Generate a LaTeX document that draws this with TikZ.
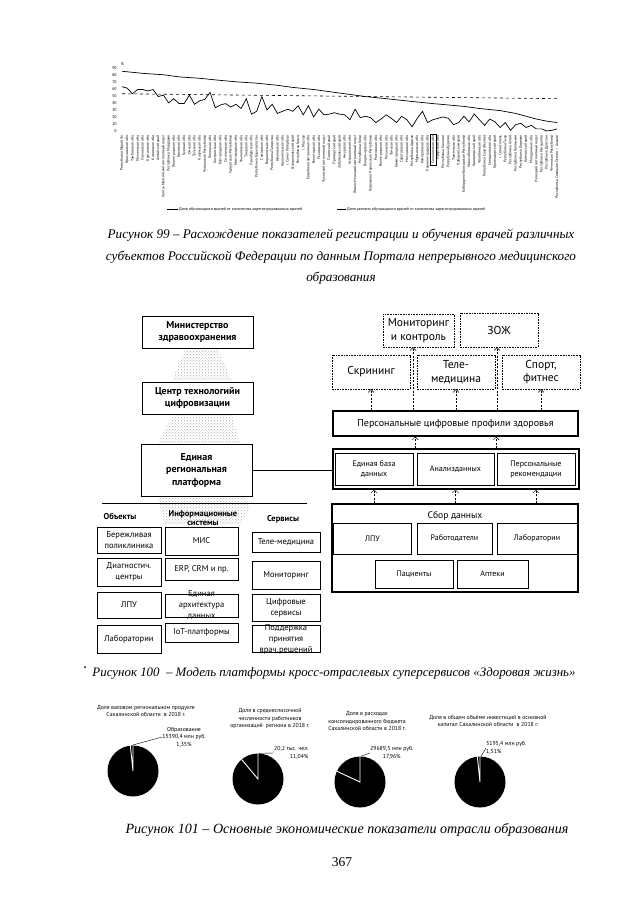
\documentclass[tikz,border=0pt]{standalone}
\usepackage{fontspec}
\setmainfont{Liberation Serif}
\newfontfamily\ptsans{PT Sans}
\usetikzlibrary{arrows.meta,patterns,positioning,fit}

\begin{document}
\begin{tikzpicture}[
  x=1pt, y=-1pt,
  capt/.style={font=\itshape\fontsize{13.2}{21.5}\selectfont, align=center, inner sep=0pt},
  series/.style={line width=0.7pt},
  axnum/.style={font=\ptsans\fontsize{4}{4.5}\selectfont, inner sep=0.5pt},
  reg/.style={font=\ptsans\fontsize{3.7}{4}\selectfont, rotate=90, anchor=east, inner sep=0.6pt},
  leg/.style={font=\ptsans\fontsize{4}{5}\selectfont, anchor=west, inner sep=1pt},
  org/.style={draw, fill=white, font=\ptsans\bfseries\fontsize{10}{12.5}\selectfont, align=center, minimum width=111pt, inner sep=2pt},
  goal/.style={draw, fill=white, dash pattern=on 1.6pt off 1pt, font=\ptsans\fontsize{11.5}{13.5}\selectfont, align=center, minimum width=78pt, minimum height=34pt, inner sep=1pt},
  fat/.style={draw, line width=1.3pt, fill=white, font=\ptsans\fontsize{10}{12}\selectfont},
  cell/.style={draw, fill=white, font=\ptsans\fontsize{8}{10}\selectfont, align=center, inner sep=1pt},
  tcell/.style={cell, font=\ptsans\fontsize{8.5}{11}\selectfont},
  head/.style={font=\ptsans\bfseries\fontsize{8.5}{9}\selectfont, align=center, inner sep=0pt},
  dar/.style={dash pattern=on 2pt off 1.5pt, -{Straight Barb[length=3pt,width=6pt]}},
  stip/.style={pattern=crosshatch dots, pattern color=gray!60},
  ptitle/.style={font=\ptsans\fontsize{5.8}{7.5}\selectfont, align=center, inner sep=0pt},
  pie/.style={circle, fill=black, minimum size=51pt, inner sep=0pt},
  slice/.style={white, line width=0.9pt}
]
\fill[white] (0,0) rectangle (630,905);
\useasboundingbox (0,0) rectangle (630,905);

% chart of regions
\begin{scope}[shift={(122,131)}, x=5.18pt, y=0.703pt]
  \foreach \v in {0,10,...,90}
    \node[axnum, anchor=east] at (-0.9,\v) {\v};
  \node[axnum] at (0.1,95) {\%};
  \draw[series] plot coordinates {(0,85) (4,82) (8,80) (11,77) (15,75) (19,72) (22,70) (26,68) (30,65) (33,62) (37,59) (41,55) (44,52) (47,49) (51,46) (56,42) (60,39) (63,37) (66,35) (69,32) (73,29) (76,25) (78,21) (80,17) (82,14) (84,12)};
  \draw[series] (0,63) \foreach \v [count=\i] in {61,53,59,59,57,59,49,51,40,46,39,39,51,38,43,45,55,33,37,39,34,38,32,46,24,28,49,30,38,25,28,31,28,36,23,36,20,31,23,24,26,24,23,16,31,19,21,19,12,17,23,18,12,21,16,6,18,28,12,16,18,20,18,9,12,21,13,24,16,8,17,13,5,12,1,9,11,5,8,3,3,0,1,3} { -- (\i,\v) };
  \draw[dashed, line width=0.6pt] (0,53) -- (84,46);
  \foreach \n [count=\i from 0] in {Республика Марий Эл, Ярославская обл., Тамбовская обл., Пензенская обл., Орловская обл., Курганская обл., Кировская обл., Алтайский край, Ханты-Мансийский автономный округ, Республика Мордовия, Ленинградская обл., Брянская обл., Курская обл., Омская обл., Тульская обл., Калужская обл., Чувашская Республика, Липецкая обл., Костромская обл., Белгородская обл., Смоленская обл., Удмуртская Республика, Новгородская обл., Ульяновская обл., Тверская обл., Оренбургская обл., Республика Башкортостан, Самарская обл., Воронежская обл., Республика Татарстан, Ивановская обл., Архангельская обл., г. Санкт-Петербург, Ставропольский край, Республика Крым, г. Москва, Еврейская автономная обл., Вологодская обл., Псковская обл., Чукотский автономный округ, Пермский край, Приморский край, Забайкальский край, Амурская обл., Астраханская обл., Ямало-Ненецкий автономный округ, Республика Коми, Владимирская обл., Карачаево-Черкесская Республика, Ростовская обл., Волгоградская обл., Рязанская обл., Томская обл., Нижегородская обл., Саратовская обл., Московская обл., Республика Адыгея, Мурманская обл., Кемеровская обл., Калининградская обл., Сахалинская обл., Иркутская обл., Республика Хакасия, Республика Бурятия, Тюменская обл., Хабаровский край, Кабардино-Балкарская Республика, Новосибирская обл., Красноярский край, Челябинская обл., Республика Саха (Якутия), Свердловская обл., Краснодарский край, г. Севастополь, Республика Тыва, Республика Алтай, Республика Калмыкия, Республика Карелия, Камчатский край, Магаданская обл., Ненецкий автономный округ, Республика Ингушетия, Республика Дагестан, Чеченская Республика, Республика Северная Осетия – Алания}
    \node[reg] (r\i) at (\i,-5) {\n};
  \node[draw, thin, inner sep=0.8pt, fit=(r60)] (mark) {};
\end{scope}
\node[leg] (leg1) at (178,209) {Доля обучающихся врачей от количества зарегистрированных врачей};
\draw[series] (leg1.west) -- ++(-11,0);
\node[leg] (leg2) at (346,209) {Доля активно обучающихся врачей от количества зарегистрированных врачей};
\draw[series] (leg2.west) -- ++(-9,0);

\node[capt] (cap99) at (341,257) {Рисунок 99 – Расхождение показателей регистрации и обучения врачей различных\\
субъектов Российской Федерации по данным Портала непрерывного медицинского\\
образования};

% platform model
\fill[stip] (185,349) -- (218,349) -- (232,381) -- (172,381) -- cycle;
\fill[stip] (172,415) -- (232,415) -- (240,443) -- (158,443) -- cycle;
\fill[stip] (158,497) -- (246,497) -- (250,508) -- (240,525) -- (165,525) -- (160,508) -- cycle;

\node[org, minimum height=32pt] (min) at (197.5,332) {Министерство\\здравоохранения};
\node[org, minimum height=32pt] (ctr) at (197.5,398) {Центр технологийи\\цифровизации};
\node[org, minimum height=52pt] (plat) at (196.5,470) {Единая\\региональная\\платформа};

\node[goal, minimum width=71pt, minimum height=33pt] (mon) at (418.5,330.5) {Мониторинг\\и контроль};
\node[goal] (zozh) at (499,330) {ЗОЖ};
\node[goal] (scr) at (371,372) {Скрининг};
\node[goal] (tele) at (456,372) {Теле-\\медицина};
\node[goal] (sport) at (541,372) {Спорт,\\фитнес};
\node[fat, minimum width=245pt, minimum height=25pt] (prof) at (455.5,423.5) {Персональные цифровые профили здоровья};

\node[fat, minimum width=246pt, minimum height=40pt] (big) at (456,469) {};
\node[cell, minimum width=78pt, minimum height=32pt] (db) at (374,469) {Единая база\\данных};
\node[cell, minimum width=77pt, minimum height=32pt] (an) at (455.5,469) {Анализданных};
\node[cell, minimum width=78pt, minimum height=32pt] (rec) at (536,469) {Персональные\\рекомендации};

\node[fat, minimum width=246pt, minimum height=88pt] (data) at (455,548) {};
\node[font=\ptsans\fontsize{9.5}{11}\selectfont] (sbor) at (455,516) {Сбор данных};
\node[cell, minimum width=78pt, minimum height=31pt] (lpu2) at (372.5,538.5) {ЛПУ};
\node[cell, minimum width=75pt, minimum height=31pt] (emp) at (454.5,538.5) {Работодатели};
\node[cell, minimum width=80pt, minimum height=31pt] (lab2) at (537,538.5) {Лаборатории};
\node[cell, minimum width=78pt, minimum height=28pt] (pat) at (414,574) {Пациенты};
\node[cell, minimum width=71pt, minimum height=28pt] (pharm) at (492.5,574) {Аптеки};

\draw[line width=0.8pt] (plat.east) -- (plat.east -| big.west);
\draw[dar] (scr |- prof.north) -- (scr.south);
\draw[dar] ([xshift=-5.5pt]mon.south |- prof.north) -- ([xshift=-5.5pt]mon.south);
\draw[dar] (tele |- prof.north) -- (tele.south);
\draw[dar] ([xshift=-2pt]zozh.south |- prof.north) -- ([xshift=-2pt]zozh.south);
\draw[dar] (sport |- prof.north) -- (sport.south);
\draw[dar] ([xshift=2pt]db.east |- big.north) -- ([xshift=2pt]db.east |- prof.south);
\draw[dar] ([xshift=2pt]an.east |- big.north) -- ([xshift=2pt]an.east |- prof.south);
\draw[dar] (db |- data.north) -- (db |- big.south);
\draw[dar] (an |- data.north) -- (an |- big.south);
\draw[dar] (rec |- data.north) -- (rec |- big.south);

% objects, systems, services
\draw[line width=0.9pt] (102,503) -- (307,503);
\node[head] (h1) at (120,516) {Объекты};
\node[head] (h2) at (203,518) {Информационные\\системы};
\node[head] (h3) at (283,519) {Сервисы};

\node[tcell, minimum width=64pt, minimum height=26pt] (c11) at (129,540) {Бережливая\\поликлиника};
\node[tcell, minimum width=64pt, minimum height=28pt] (c12) at (129,572) {Диагностич.\\центры};
\node[tcell, minimum width=64pt, minimum height=26pt] (c13) at (129,605) {ЛПУ};
\node[tcell, minimum width=64pt, minimum height=28pt] (c14) at (129,639) {Лаборатории};
\node[tcell, minimum width=73pt, minimum height=28pt] (c21) at (201.5,541) {МИС};
\node[tcell, minimum width=73pt, minimum height=22pt] (c22) at (201.5,569) {ERP, CRM и пр.};
\node[tcell, minimum width=73pt, inner ysep=-3pt] (c23) at (201.5,605.5) {Единая\\архитектура\\данных};
\node[tcell, minimum width=73pt, minimum height=19pt] (c24) at (201.5,632.5) {IoT-платформы};
\node[tcell, minimum width=68pt, minimum height=20pt] (c31) at (286,542) {Теле-медицина};
\node[tcell, minimum width=68pt, minimum height=28pt] (c32) at (286,575) {Мониторинг};
\node[tcell, minimum width=68pt, minimum height=27pt] (c33) at (286,607.5) {Цифровые\\сервисы};
\node[tcell, minimum width=68pt, inner ysep=-1.5pt] (c34) at (286,639) {Поддержка\\принятия\\врач.решений};

\fill (85,667) circle (1);
\node[capt, font=\itshape\fontsize{12.9}{16}\selectfont] (cap100) at (334,673) {Рисунок 100\ \ – Модель платформы кросс-отраслевых суперсервисов «Здоровая жизнь»};

% pies
\node[ptitle] (t1) at (146,711) {Доля валовом региональном продукте\\Сахалинской области \ в 2018 г.};
\node[ptitle] (t2) at (270,719) {Доля в среднесписочной\\численности работников\\организаций \ региона в 2018 г.};
\node[ptitle] (t3) at (367,721) {Доля в расходах\\консолидированного бюджета\\Сахалинской области в 2018 г.};
\node[ptitle] (t4) at (488,721) {Доля в общем объёме инвестиций в основной\\капитал Сахалинской области \ в 2018 г.};

\node[pie] (pie1) at (133,771) {};
\node[pie] (pie2) at (258,779) {};
\node[pie] (pie3) at (360,782) {};
\node[pie] (pie4) at (480,782) {};
\draw[slice] (pie1.90) -- (pie1.center) -- (pie1.96);
\draw[slice] (pie2.90) -- (pie2.center) -- (pie2.130);
\draw[slice] (pie3.90) -- (pie3.center) -- (pie3.155);
\draw[slice] (pie4.90) -- (pie4.center) -- (pie4.96);

\node[ptitle] (l1) at (184,737) {Образование\\15390,4 млн руб.\\1,35\%};
\node[ptitle, align=right, anchor=west] (l2) at (274,753) {20,2 тыс. чел.\\11,04\%};
\node[ptitle, anchor=west] (l3) at (370,753) {29689,5 млн руб.\\17,96\%};
\node[ptitle, align=left, anchor=west] (l4) at (486,748) {3195,4 млн руб.\\1,51\%};
\draw[thin] (pie1.93) -- (l1.west);
\draw[thin] (pie2.88) -- (l2.west);
\draw[thin] (pie3.88) -- (l3.west);
\draw[thin] (pie4.88) -- (l4.west);

\node[capt, font=\itshape\fontsize{14.1}{16}\selectfont] (cap101) at (347,830) {Рисунок 101 – Основные экономические показатели отрасли образования};
\node[font=\fontsize{13.5}{16}\selectfont] (page) at (342,862) {367};
\end{tikzpicture}
\end{document}
